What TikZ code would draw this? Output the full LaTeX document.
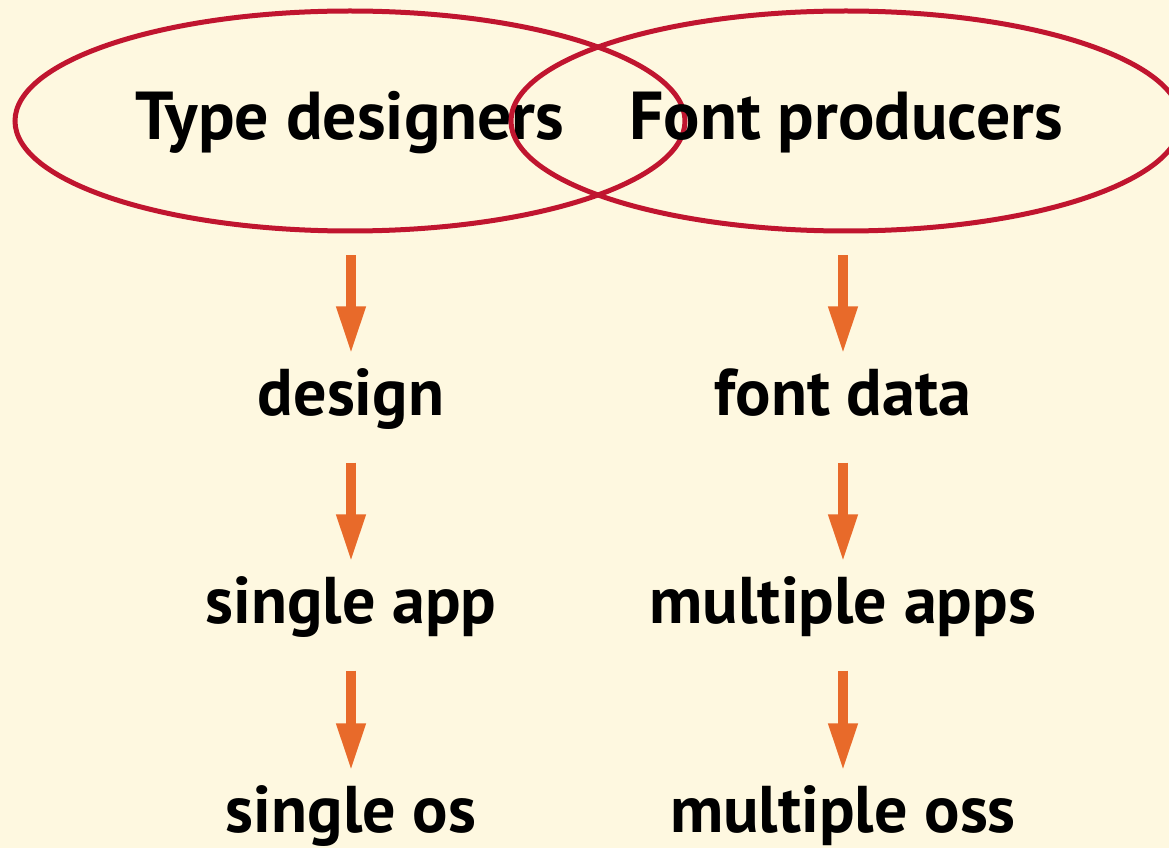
\documentclass[tikz,border=0pt]{standalone}
\usepackage{fontspec}
\setmainfont{PT Sans}
\usepackage{tikz}
\usetikzlibrary{shapes.geometric,arrows.meta,positioning}

\definecolor{paper}{HTML}{FEF8E0}
\definecolor{ringred}{HTML}{C0152F}
\definecolor{flowor}{HTML}{E86A2A}

\tikzset{
    lbl/.style={font=\fontsize{18.8}{21}\selectfont\bfseries,inner sep=0pt,
        anchor=base,text height=0.47cm,text depth=0.12cm},
    group/.style={ellipse,draw=ringred,line width=0.05cm,
        minimum width=6.7cm,minimum height=2.2cm,inner sep=0pt,
        text height=0.5cm,text depth=0.12cm,
        font=\fontsize{19.3}{22}\selectfont\bfseries},
    flow/.style={draw=flowor,line width=0.1cm,
        -{Triangle[width=0.27cm,length=0.48cm]}}
}

\begin{document}
\begin{tikzpicture}
    \useasboundingbox (0,0) rectangle (11.69,8.48);
    \fill[paper] (0,0) rectangle (11.69,8.48);
    % the two overlapping groups
    \node[group] (td) at (3.50,7.27) {Type designers};
    \node[group] (fp) at (8.46,7.27) {Font producers};
    % left column
    \node[lbl] (design) at (3.51,4.33) {design};
    \node[lbl] (sapp) at (3.51,2.25) {single app};
    \node[lbl] (sos) at (3.51,0.16) {single os};
    % right column
    \node[lbl] (fdata) at (8.43,4.33) {font data};
    \node[lbl] (mapps) at (8.43,2.25) {multiple apps};
    \node[lbl] (moss) at (8.43,0.16) {multiple oss};
    \draw[flow,shorten <=0.22cm,shorten >=0.13cm] (td.south-|design) -- (design.north);
    \draw[flow,shorten <=0.22cm,shorten >=0.13cm] (fp.south-|fdata) -- (fdata.north);
    \draw[flow,shorten <=0.35cm,shorten >=0.13cm] (design) -- (sapp);
    \draw[flow,shorten <=0.35cm,shorten >=0.13cm] (sapp) -- (sos);
    \draw[flow,shorten <=0.35cm,shorten >=0.13cm] (fdata) -- (mapps);
    \draw[flow,shorten <=0.35cm,shorten >=0.13cm] (mapps) -- (moss);
\end{tikzpicture}
\end{document}
